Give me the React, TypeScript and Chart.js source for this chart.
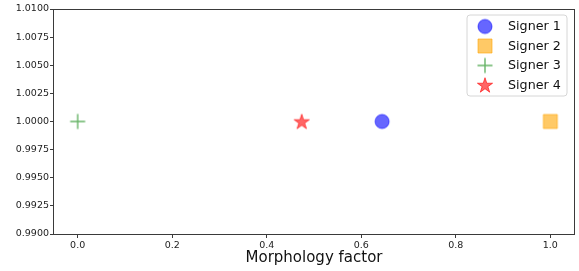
import React, { useEffect, useRef } from "react";
import { Chart, registerables } from "chart.js";

Chart.register(...registerables);

const signerLabels = ["Signer 1", "Signer 2", "Signer 3", "Signer 4"];
const morphologyFactor = [0.644, 1.0, 0.0, 0.474];
const yValues = [1.0, 1.0, 1.0, 1.0];
const markerKinds = ["circle", "square", "plus", "star"];
const markerColors = [
  "rgba(0,0,255,0.6)",
  "rgba(255,165,0,0.6)",
  "rgba(0,128,0,0.6)",
  "rgba(255,0,0,0.6)",
];
const yTicks = [0.99, 0.9925, 0.995, 0.9975, 1.0, 1.0025, 1.005, 1.0075, 1.01];
const xTicks = [0.0, 0.2, 0.4, 0.6, 0.8, 1.0];
const xTitle = "Morphology factor";

const FONT = "'DejaVu Sans', sans-serif";

function makeMarker(kind: string, color: string): HTMLCanvasElement {
  const size = 20;
  const c = document.createElement("canvas");
  c.width = size;
  c.height = size;
  const ctx = c.getContext("2d")!;
  const m = size / 2;
  ctx.fillStyle = color;
  ctx.strokeStyle = color;
  ctx.lineWidth = 1;
  if (kind === "circle") {
    ctx.beginPath();
    ctx.arc(m, m, 7, 0, Math.PI * 2);
    ctx.fill();
    ctx.stroke();
  } else if (kind === "square") {
    ctx.beginPath();
    ctx.rect(m - 7, m - 7, 14, 14);
    ctx.fill();
    ctx.stroke();
  } else if (kind === "plus") {
    ctx.lineWidth = 1.4;
    ctx.beginPath();
    ctx.moveTo(m - 7.5, m);
    ctx.lineTo(m + 7.5, m);
    ctx.moveTo(m, m - 7.5);
    ctx.lineTo(m, m + 7.5);
    ctx.stroke();
  } else if (kind === "star") {
    const R = 8;
    const r = R * 0.381966;
    ctx.beginPath();
    for (let i = 0; i < 10; i++) {
      const rad = i % 2 === 0 ? R : r;
      const a = -Math.PI / 2 + (i * Math.PI) / 5;
      const px = m + rad * Math.cos(a);
      const py = m + 0.7 + rad * Math.sin(a);
      if (i === 0) ctx.moveTo(px, py);
      else ctx.lineTo(px, py);
    }
    ctx.closePath();
    ctx.fill();
    ctx.stroke();
  }
  return c;
}

export default function App() {
  const ref = useRef<HTMLCanvasElement | null>(null);

  useEffect(() => {
    document.body.style.margin = "0";
    const canvas = ref.current;
    if (!canvas) return;
    const markers = markerKinds.map((k, i) => makeMarker(k, markerColors[i]));

    const frameAndLegend = {
      id: "frameAndLegend",
      afterDatasetsDraw(chart: any) {
        const { ctx, chartArea } = chart;
        ctx.save();
        ctx.strokeStyle = "#3a3a3a";
        ctx.lineWidth = 1;
        ctx.strokeRect(
          Math.round(chartArea.left) - 0.5,
          Math.round(chartArea.top) + 0.5,
          Math.round(chartArea.right - chartArea.left) + 1,
          Math.round(chartArea.bottom - chartArea.top)
        );
        // legend
        const right = chartArea.right - 7;
        const top = chartArea.top + 6;
        const w = 100;
        const h = 81;
        const left = right - w;
        const rr = 3;
        ctx.beginPath();
        ctx.moveTo(left + rr, top);
        ctx.lineTo(right - rr, top);
        ctx.quadraticCurveTo(right, top, right, top + rr);
        ctx.lineTo(right, top + h - rr);
        ctx.quadraticCurveTo(right, top + h, right - rr, top + h);
        ctx.lineTo(left + rr, top + h);
        ctx.quadraticCurveTo(left, top + h, left, top + h - rr);
        ctx.lineTo(left, top + rr);
        ctx.quadraticCurveTo(left, top, left + rr, top);
        ctx.closePath();
        ctx.fillStyle = "rgba(255,255,255,0.8)";
        ctx.fill();
        ctx.strokeStyle = "#d6d6d6";
        ctx.lineWidth = 1;
        ctx.stroke();
        ctx.font = `12.7px ${FONT}`;
        ctx.textBaseline = "middle";
        ctx.textAlign = "left";
        ctx.fillStyle = "#111";
        chart.data.datasets.forEach((ds: any, i: number) => {
          const cy = top + 11.5 + i * 19.5;
          const mk = markers[i];
          ctx.drawImage(mk, left + 18 - mk.width / 2, cy - mk.height / 2);
          ctx.fillText(ds.label, left + 41, cy + 0.5);
        });
        ctx.restore();
      },
    };

    const chart = new Chart(canvas, {
      type: "scatter",
      data: {
        datasets: signerLabels.map((label, i) => ({
          label,
          data: [{ x: morphologyFactor[i], y: yValues[i] }],
          pointStyle: markers[i] as any,
          backgroundColor: markerColors[i],
          borderColor: markerColors[i],
        })),
      },
      options: {
        animation: false,
        responsive: false,
        events: [],
        layout: { padding: { top: 9, right: 4, left: 0, bottom: 0 } },
        plugins: {
          legend: { display: false },
          tooltip: { enabled: false },
        },
        scales: {
          x: {
            type: "linear",
            min: -0.05,
            max: 1.05,
            afterBuildTicks: (axis: any) => {
              axis.ticks = xTicks.map((v) => ({ value: v }));
            },
            afterFit: (axis: any) => {
              axis.height = 37;
            },
            ticks: {
              callback: (v: any) => Number(v).toFixed(1),
              font: { family: FONT, size: 9.5 },
              color: "#222",
              padding: 2,
              maxRotation: 0,
              autoSkip: false,
            },
            grid: {
              drawOnChartArea: false,
              drawTicks: true,
              tickLength: 4,
              color: "#3a3a3a",
            },
            border: { display: false },
            title: {
              display: true,
              text: xTitle,
              font: { family: FONT, size: 15, lineHeight: 1.2 },
              color: "#111",
              padding: { top: 0, bottom: 4 },
            },
          },
          y: {
            type: "linear",
            min: 0.99,
            max: 1.01,
            afterBuildTicks: (axis: any) => {
              axis.ticks = yTicks.map((v) => ({ value: v }));
            },
            afterFit: (axis: any) => {
              axis.width = 54;
            },
            ticks: {
              callback: (v: any) => Number(v).toFixed(4),
              font: { family: FONT, size: 9.5 },
              color: "#222",
              padding: 1,
              autoSkip: false,
            },
            grid: {
              drawOnChartArea: false,
              drawTicks: true,
              tickLength: 4,
              color: "#3a3a3a",
            },
            border: { display: false },
          },
        },
      },
      plugins: [frameAndLegend],
    });
    return () => chart.destroy();
  }, []);

  return (
    <div style={{ width: 579, height: 271 }}>
      <canvas ref={ref} width={579} height={271} style={{ display: "block", width: 579, height: 271 }} />
    </div>
  );
}
